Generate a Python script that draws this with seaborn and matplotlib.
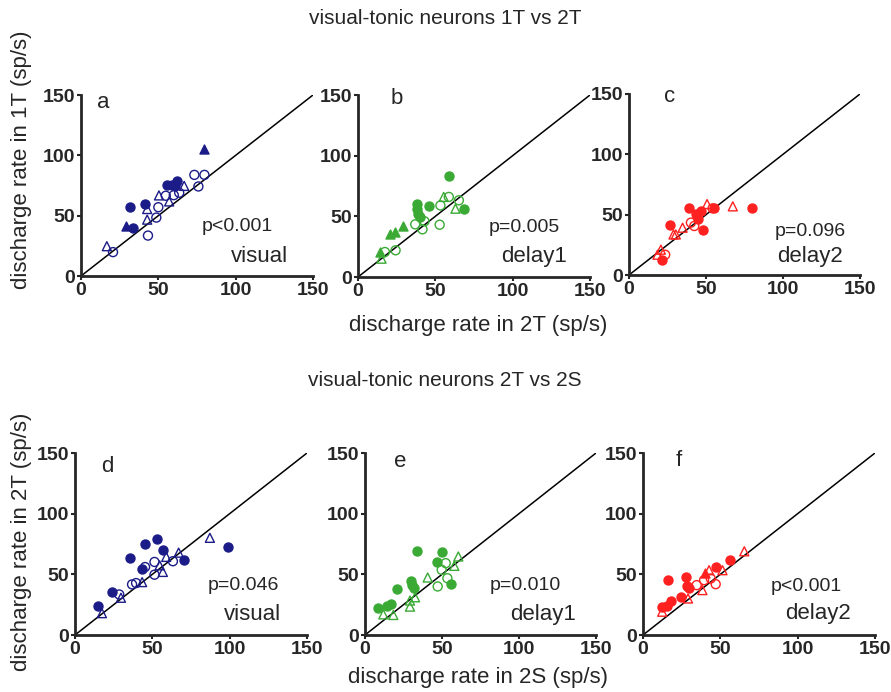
import matplotlib
matplotlib.use("Agg")
import matplotlib.pyplot as plt
import seaborn as sns
import pandas as pd

sns.set_style("ticks")
plt.rcParams['font.family'] = ['Liberation Sans', 'DejaVu Sans']
NARROW = ['Liberation Sans Narrow', 'Liberation Sans', 'DejaVu Sans']

NAVY = '#1c1c88'
GREEN = '#3aaa35'
RED = '#ff2020'

# kinds: fc = filled circle, oc = open circle, ft = filled triangle, ot = open triangle
# panel a: visual, 1T vs 2T
a_x = [32, 41.5, 33.7, 55.9, 59.1, 62, 60.7, 79.8, 29.3,
       16.7, 42.8, 42.8, 50.4, 57, 66.7,
       20.7, 43.3, 48.7, 50, 54.8, 60, 63.5, 73.3, 79.8, 75.9]
a_y = [57.4, 59.9, 40.1, 75.5, 75.5, 79, 74.7, 105.2, 41.2,
       24.7, 55.5, 46.7, 66.8, 61.8, 74.7,
       19.8, 33.5, 48.4, 57, 66.5, 67, 69, 83.8, 83.8, 74.2]
a_kind = ['fc'] * 7 + ['ft'] * 2 + ['ot'] * 6 + ['oc'] * 10

# panel b: delay1, 1T vs 2T
b_x = [58.7, 38, 38, 45.7, 38.7, 40, 68.5,
       20.7, 23.9, 29.3, 14,
       53.3, 58.7, 65.2, 37, 43, 41.7, 52.8, 24.3, 17.4,
       55.4, 63, 15.2]
b_y = [83.2, 59.9, 56.3, 58.2, 52.2, 49.5, 56.3,
       35.7, 37, 42, 20.6,
       59, 66, 63.2, 43.4, 45.9, 39.3, 43.1, 22, 20.6,
       66, 56.3, 15.1]
b_kind = ['fc'] * 7 + ['ft'] * 4 + ['oc'] * 9 + ['ot'] * 3

# panel c: delay2, 1T vs 2T
c_x = [80, 39.1, 43.5, 46.8, 44.5, 47.8, 26.5, 55.4, 21.7,
       50.7, 67.4, 34.8, 28.9, 30.4, 20.7, 18.5,
       54.3, 40.2, 42.4, 23.5]
c_y = [55.2, 55.2, 50.5, 53.2, 46.5, 37, 41.2, 55.2, 12.6,
       58.8, 56.9, 39.2, 33.6, 33.6, 21, 16.8,
       55.2, 43.4, 40.6, 16.8]
c_kind = ['fc'] * 9 + ['ot'] * 7 + ['oc'] * 4

# panel d: visual, 2T vs 2S
d_x = [15, 23.6, 35.8, 45.1, 52.9, 56.8, 43, 70.5, 99.1,
       17.4, 29.7, 43.4, 54.7, 59, 56.8, 67, 87.2,
       28.6, 36.9, 39.5, 45.3, 51.4, 51.4, 63.3]
d_y = [23.8, 35.4, 63.8, 75.4, 79.3, 69.9, 54.7, 61.6, 72.7,
       18, 30.7, 43.6, 57.4, 64.4, 52, 67.9, 80.1,
       33.4, 41.7, 42.8, 56, 60.2, 49.7, 60.8]
d_kind = ['fc'] * 9 + ['ot'] * 8 + ['oc'] * 7

# panel e: delay1, 2T vs 2S
e_x = [8.2, 14.1, 16.9, 20.6, 29.9, 30.3, 31.8, 33.5, 49.8, 46.5, 55.8,
       11.9, 18.4, 29.2, 29.2, 32.5, 40.7, 60.6, 58,
       47.2, 49.8, 52.4, 53.5]
e_y = [22, 24, 25.6, 37.7, 44.6, 40.8, 38.6, 68.9, 68, 60, 42.1,
       17, 16.5, 23.4, 28.4, 31.1, 47.4, 64.7, 57,
       40, 53.7, 59.2, 46.8]
e_kind = ['fc'] * 11 + ['ot'] * 8 + ['oc'] * 4

# panel f: delay2, 2T vs 2S
f_x = [12.4, 15.6, 17.8, 16, 24.3, 27.5, 28.6, 29.5, 47.5, 56.2,
       40.1,
       12.4, 29.1, 38.4, 42.7, 51.4, 65.5,
       34.7, 39.5, 43.8, 47]
f_y = [22.7, 24.1, 28.2, 45.2, 31.5, 48, 40.3, 39, 56.2, 61.6,
       50.7,
       19.2, 30.1, 37, 53.4, 53.4, 69,
       41.1, 45.2, 46.6, 41.9]
f_kind = ['fc'] * 10 + ['ft'] + ['ot'] * 6 + ['oc'] * 4

panel_letters = ['a', 'b', 'c', 'd', 'e', 'f']
p_texts = ['p<0.001', 'p=0.005', 'p=0.096', 'p=0.046', 'p=0.010', 'p<0.001']
epoch_names = ['visual', 'delay1', 'delay2', 'visual', 'delay1', 'delay2']
row_titles = ['visual-tonic neurons 1T vs 2T', 'visual-tonic neurons 2T vs 2S']
y_labels = ['discharge rate in 1T (sp/s)', 'discharge rate in 2T (sp/s)']
x_labels = ['discharge rate in 2T (sp/s)', 'discharge rate in 2S (sp/s)']
ticks = [0, 50, 100, 150]

panels = [(a_x, a_y, a_kind, NAVY), (b_x, b_y, b_kind, GREEN), (c_x, c_y, c_kind, RED),
          (d_x, d_y, d_kind, NAVY), (e_x, e_y, e_kind, GREEN), (f_x, f_y, f_kind, RED)]

# axes boxes in pixels (left, top, right, bottom)
W, H = 891, 692
boxes = [(81, 95, 313, 276), (358, 95, 590, 277), (629, 94, 860, 275),
         (75, 453, 307, 635), (365, 453, 596, 635), (643, 453, 875, 635)]
# text positions in data coords: letter, p-value, epoch
letter_pos = [(14.6, 144), (25, 147), (26.7, 148), (21, 139), (22.7, 143), (23.2, 144)]
p_pos = [(101, 41), (107.6, 41), (117.4, 36), (109, 40.6), (103.9, 41), (105.6, 39.7)]
ep_pos = [(115.6, 16.5), (114, 17), (117.8, 15), (115, 17), (115.8, 16.5), (113, 17.8)]

fig = plt.figure(figsize=(W / 100, H / 100), dpi=100)

for i, (xs, ys, kinds, col) in enumerate(panels):
    l, t, r, b = boxes[i]
    ax = fig.add_axes([l / W, 1 - b / H, (r - l) / W, (b - t) / H])
    df = pd.DataFrame({'x': xs, 'y': ys, 'kind': kinds})
    ax.plot([0, 150], [0, 150], color='black', lw=1.1, zorder=1)
    for kind in ['oc', 'ot', 'fc', 'ft']:
        sub = df[df['kind'] == kind]
        if sub.empty:
            continue
        marker = 'o' if kind[1] == 'c' else '^'
        face = col if kind[0] == 'f' else 'none'
        sns.scatterplot(x='x', y='y', data=sub, ax=ax, marker=marker, s=42,
                        color=col, facecolors=face, edgecolor=col,
                        linewidth=1.0, zorder=3)
    ax.set_xlim(0, 150)
    ax.set_ylim(0, 150)
    ax.set_xticks(ticks)
    ax.set_yticks(ticks)
    ax.set_xlabel('')
    ax.set_ylabel('')
    sns.despine(ax=ax)
    for sp in ['left', 'bottom']:
        ax.spines[sp].set_linewidth(2.0)
    ax.tick_params(length=3, width=1.5, pad=1)
    for lab in ax.get_xticklabels() + ax.get_yticklabels():
        lab.set_fontweight('bold')
        lab.set_fontfamily(NARROW)
        lab.set_fontsize(14)
    ax.text(*letter_pos[i], panel_letters[i], fontsize=16, ha='center', va='center')
    ax.text(*p_pos[i], p_texts[i], fontsize=14, ha='center', va='center')
    ax.text(*ep_pos[i], epoch_names[i], fontsize=16, ha='center', va='center')

for row in range(2):
    title_y = [18, 381][row]
    fig.text(445 / W, 1 - title_y / H, row_titles[row], fontsize=15, ha='center',
             va='center', family=NARROW)
    xl_y = [326, 677][row]
    fig.text(478 / W, 1 - xl_y / H, x_labels[row], fontsize=16, ha='center', va='center')
    yl_y = [160, 542][row]
    fig.text(22 / W, 1 - yl_y / H, y_labels[row], fontsize=16, ha='center', va='center',
             rotation=90)

fig.savefig('out.png', dpi=100)
